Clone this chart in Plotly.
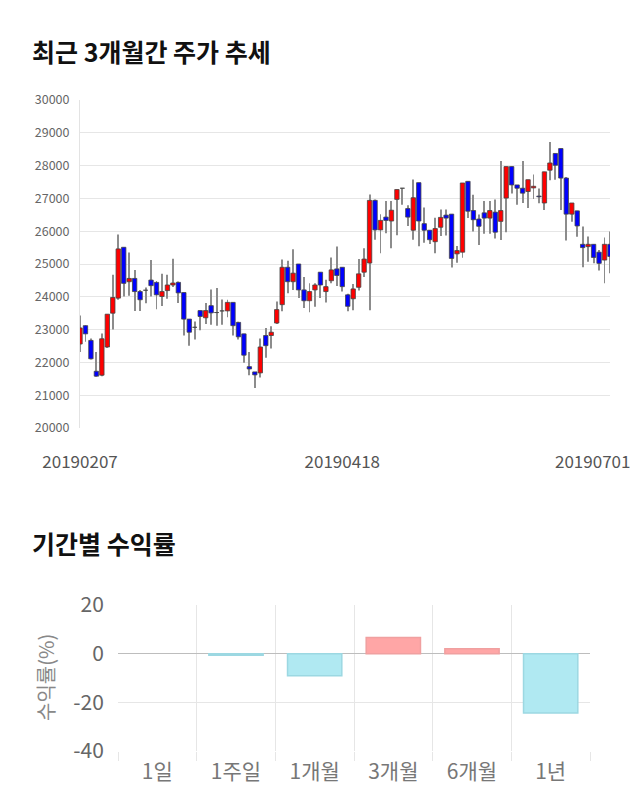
import pandas as pd
import plotly.graph_objects as go

W, H = 640, 810
FONT = "Noto Sans CJK KR"

# ---------------- data ----------------
CLOSED_DAYS = ["2019-03-01", "2019-04-15", "2019-05-01", "2019-05-06", "2019-06-06"]
DATES = [d.strftime("%Y%m%d") for d in pd.bdate_range("2019-02-07", "2019-07-01")
         if d.strftime("%Y-%m-%d") not in CLOSED_DAYS]

OPEN = [22560, 23120, 22670, 21730, 21610, 22470, 23500, 23960, 25510, 24460,
        24560, 24160, 24200, 24510, 24440, 24010, 24190, 24360, 24440, 24130,
        23320, 23070, 23580, 23360, 23730, 23520, 23570, 23570, 23830, 23220,
        22870, 21870, 21710, 21680, 22820, 22820, 23200, 23760, 24900, 24460,
        25000, 24210, 23880, 24210, 24750, 24160, 24490, 24850, 24900, 24060,
        23940, 24290, 24750, 25030, 26940, 26040, 26430, 26310, 26970, 27310,
        26690, 26030, 27480, 26230, 26030, 25680, 26120, 26490, 26520, 25310,
        25360, 27520, 26630, 26370, 26560, 26400, 26580, 26300, 27010, 27970,
        27410, 27310, 27210, 27320, 27070, 26860, 27860, 28370, 28520, 27620,
        26520, 26620, 25600, 25530, 25600, 25360, 25120, 25600]
HIGH = [23430, 23130, 22730, 22320, 22880, 23470, 24670, 25900, 25510, 25350,
        24820, 24210, 24280, 25120, 24480, 24700, 24670, 25160, 24470, 24130,
        23320, 23250, 23580, 23810, 24220, 24270, 23920, 23910, 23830, 23240,
        22870, 22320, 21710, 22730, 23050, 23100, 23860, 25140, 25100, 25450,
        25000, 24600, 24410, 24410, 24750, 24520, 25200, 25530, 24900, 24090,
        24390, 25150, 25480, 27120, 26970, 26520, 26920, 26920, 27270, 27310,
        26790, 27580, 27480, 26720, 26030, 26410, 26660, 26660, 26520, 25550,
        27470, 27520, 27110, 26510, 26920, 26920, 26970, 28140, 27970, 27970,
        27410, 28140, 27570, 27730, 27300, 27810, 28720, 28370, 28520, 27650,
        26860, 26620, 26140, 25840, 25600, 25430, 25810, 25990]
LOW = [22320, 22630, 22090, 21560, 21580, 22440, 23000, 23910, 24010, 24030,
       23570, 23570, 23800, 24010, 23620, 23720, 23940, 24300, 23810, 22820,
       22510, 22700, 22980, 23170, 23150, 23120, 23150, 23380, 22820, 22700,
       21990, 21610, 21220, 21540, 22140, 22420, 23170, 23560, 24110, 24210,
       23960, 23660, 23530, 23700, 23960, 23830, 24410, 24330, 24160, 23560,
       23590, 24190, 24600, 23590, 25740, 25330, 25940, 25480, 25880, 26810,
       26160, 25740, 25540, 25650, 25610, 25330, 25850, 25870, 24890, 25040,
       25190, 26400, 25990, 25580, 25920, 25920, 25780, 25730, 25970, 27150,
       26810, 26860, 26710, 26980, 26850, 26650, 27550, 27570, 26650, 25720,
       26290, 25830, 24900, 25070, 25020, 24800, 24410, 24720]
CLOSE = [23050, 22870, 22110, 21580, 22720, 23470, 23980, 25460, 24410, 24560,
         24160, 23910, 24200, 24340, 24060, 24160, 24360, 24420, 24120, 23320,
         22920, 23070, 23400, 23580, 23510, 23520, 23570, 23830, 23120, 22780,
         22220, 21800, 21620, 22470, 22510, 22920, 23610, 24900, 24460, 24720,
         24210, 23880, 24160, 24360, 24360, 24310, 24820, 24650, 24310, 23710,
         24240, 24700, 25150, 26940, 26040, 26330, 26330, 26640, 27270, 27310,
         26430, 27020, 26310, 26030, 25740, 26080, 26420, 26400, 25170, 25410,
         27470, 26610, 26350, 26150, 26400, 26630, 25970, 26630, 27970, 27410,
         27310, 27160, 27570, 27370, 27050, 27810, 28080, 28010, 27620, 26520,
         26860, 26160, 25500, 25600, 25200, 25020, 25600, 25230]
DATE_LABELS = ["20190207", "20190418", "20190701"]

PERIODS = ["1일", "1주일", "1개월", "3개월", "6개월", "1년"]
RETURNS = [0.0, -0.7, -9.1, 6.6, 2.0, -24.4]
RET_TICKS = [20, 0, -20, -40]

TITLE_1 = "최근 3개월간 주가 추세"
TITLE_2 = "기간별 수익률"
Y_TITLE_2 = "수익률(%)"

# ---------------- figure ----------------
def py(px):
    return 1 - px / H

fig = go.Figure()

# wicks (high-low) drawn as thin bars on the category axis
fig.add_trace(go.Bar(
    x=DATES, y=[h - l for h, l in zip(HIGH, LOW)], base=LOW,
    width=0.17, marker=dict(color="#8c8c8c", line=dict(width=0)),
    xaxis="x", yaxis="y", showlegend=False, hoverinfo="skip",
))
# candle bodies (open-close)
body_color = ["#ff0000" if c > o else ("#0000ff" if c < o else "#333333")
              for o, c in zip(OPEN, CLOSE)]
fig.add_trace(go.Bar(
    x=DATES, y=[abs(c - o) for o, c in zip(OPEN, CLOSE)],
    base=[min(o, c) for o, c in zip(OPEN, CLOSE)],
    width=0.8, marker=dict(color=body_color, line=dict(color="#444444", width=0.8)),
    xaxis="x", yaxis="y", showlegend=False,
    customdata=list(zip(OPEN, HIGH, LOW, CLOSE)),
    hovertemplate="%{x}<br>O %{customdata[0]}<br>H %{customdata[1]}"
                  "<br>L %{customdata[2]}<br>C %{customdata[3]}<extra></extra>",
))

bar_fill = ["#ffa6a6" if v > 0 else "#b0e9f2" for v in RETURNS]
bar_line = ["#f0a0a0" if v > 0 else "#9cd8e2" for v in RETURNS]
bar_lw = [1.5 if v != 0 else 0 for v in RETURNS]
fig.add_trace(go.Bar(
    x=PERIODS, y=RETURNS, xaxis="x2", yaxis="y2", showlegend=False, width=0.69,
    marker=dict(color=bar_fill, line=dict(color=bar_line, width=bar_lw)),
))

last_idx = DATES.index(DATE_LABELS[2])

fig.update_layout(
    width=W, height=H, margin=dict(l=0, r=0, t=0, b=0, autoexpand=False),
    paper_bgcolor="white", plot_bgcolor="white",
    font=dict(family=FONT, color="#666"),
    barmode="overlay",
    xaxis=dict(
        domain=[80 / W, 610 / W], anchor="y", type="category", automargin=False,
        range=[0, len(DATES) - 1],
        showgrid=False, showline=False, zeroline=False,
        tickmode="array", tickvals=DATE_LABELS[:2], ticktext=DATE_LABELS[:2],
        ticks="outside", ticklen=19, tickcolor="rgba(0,0,0,0)",
        tickfont=dict(size=17, color="#555", family=FONT),
    ),
    yaxis=dict(
        domain=[py(428), py(100)], anchor="x", range=[20000, 30000], dtick=1000,
        automargin=False,
        tickformat="d", gridcolor="#e6e6e6", gridwidth=1, zeroline=False,
        showline=True, linecolor="#e3e3e3", linewidth=1,
        ticks="outside", ticklen=7, tickcolor="rgba(0,0,0,0)",
        tickfont=dict(size=12.5, color="#666", family=FONT),
    ),
    xaxis2=dict(
        domain=[118 / W, 590 / W], anchor="y2", type="category", automargin=False,
        tickson="boundaries", showgrid=True, gridcolor="#e6e6e6",
        ticks="outside", ticklen=9, tickcolor="#e6e6e6", ticklabelstandoff=6,
        showline=False, zeroline=False,
        tickfont=dict(size=21, color="#777", family=FONT),
    ),
    yaxis2=dict(
        domain=[py(751), py(605)], anchor="x2", range=[-40, 20],
        tickmode="array", tickvals=RET_TICKS, ticktext=[str(t) for t in RET_TICKS],
        automargin=False,
        gridcolor="#e6e6e6", zeroline=True, zerolinecolor="#bdbdbd", zerolinewidth=1,
        showline=False, ticks="outside", ticklen=9, tickcolor="rgba(0,0,0,0)",
        tickfont=dict(size=21, color="#666", family=FONT),
    ),
    annotations=[
        dict(text="<b>" + TITLE_1 + "</b>", x=30 / W, y=py(51), xref="paper", yref="paper",
             xanchor="left", yanchor="middle", showarrow=False,
             font=dict(size=25, color="#111", family=FONT)),
        dict(text="<b>" + TITLE_2 + "</b>", x=30 / W, y=py(543), xref="paper", yref="paper",
             xanchor="left", yanchor="middle", showarrow=False,
             font=dict(size=25, color="#111", family=FONT)),
        dict(text=DATE_LABELS[2], x=last_idx, xref="x", y=py(460), yref="paper",
             xanchor="right", yanchor="middle", xshift=22, showarrow=False,
             font=dict(size=17, color="#555", family=FONT)),
        dict(text=Y_TITLE_2, x=45 / W, y=py(678), xref="paper", yref="paper",
             xanchor="center", yanchor="middle", textangle=-90, showarrow=False,
             font=dict(size=20, color="#888", family=FONT)),
    ],
)

fig.write_html("out.html")
